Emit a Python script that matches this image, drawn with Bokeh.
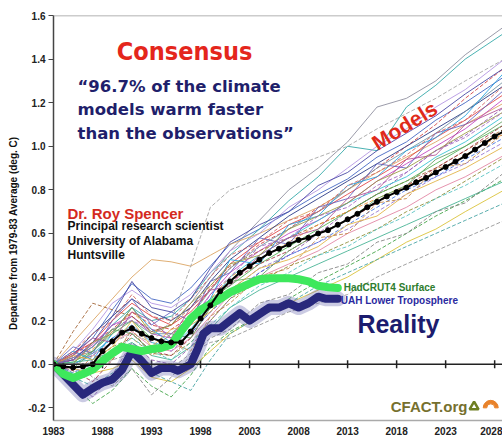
import math
from bokeh.plotting import figure
from bokeh.models import Range1d, Span, Label, FixedTicker, PrintfTickFormatter
from bokeh.core.properties import value
from bokeh.embed import file_html
from bokeh.resources import INLINE

# ---------------- data ----------------
x_ticks = [1983, 1988, 1993, 1998, 2003, 2008, 2013, 2018, 2023, 2028]
y_ticks = [-0.2, 0.0, 0.2, 0.4, 0.6, 0.8, 1.0, 1.2, 1.4, 1.6]

mean_years = list(range(1983, 2030))
mean_vals = [0.00, -0.01, -0.015, -0.01, 0.00, 0.06, 0.105, 0.145, 0.165, 0.14,
             0.12, 0.105, 0.10, 0.10, 0.15, 0.21, 0.27, 0.335, 0.38, 0.42,
             0.45, 0.48, 0.51, 0.53, 0.55, 0.57, 0.58, 0.60, 0.615, 0.64,
             0.665, 0.69, 0.72, 0.745, 0.77, 0.79, 0.81, 0.835, 0.855, 0.88,
             0.905, 0.93, 0.955, 0.985, 1.015, 1.045, 1.07]

had_years = list(range(1983, 2013))
had_vals = [0.00, -0.045, -0.063, -0.045, -0.025, 0.015, 0.05, 0.08, 0.07, 0.06,
            0.07, 0.075, 0.09, 0.15, 0.21, 0.25, 0.275, 0.30, 0.33, 0.35,
            0.37, 0.39, 0.395, 0.395, 0.395, 0.39, 0.38, 0.36, 0.353, 0.35]

uah_years = [1983, 1984.5, 1986, 1987, 1988, 1989, 1990, 1991, 1992, 1993, 1994,
             1995, 1995.7, 1997, 1997.7, 1998.3, 1999, 2000, 2001, 2002, 2003,
             2004, 2005, 2006, 2007, 2008, 2009, 2010, 2010.8, 2012]
uah_vals = [0.00, -0.07, -0.14, -0.11, -0.085, -0.07, -0.025, 0.06, 0.015, -0.04,
            -0.017, -0.017, -0.03, 0.00, 0.07, 0.14, 0.165, 0.165, 0.20, 0.235,
            0.20, 0.23, 0.26, 0.26, 0.28, 0.26, 0.28, 0.31, 0.30, 0.30]

model_years = [1983, 1985, 1987, 1989, 1991, 1993, 1995, 1997, 1999, 2001,
               2004, 2007, 2010, 2013, 2016, 2019, 2022, 2025, 2029]
m01 = [0, 0.05, 0.12, 0.25, 0.37, 0.30, 0.28, 0.35, 0.45, 0.55, 0.62, 0.70, 0.78, 0.85, 0.95, 1.02, 1.12, 1.20, 1.32]
m02 = [0, 0.02, 0.08, 0.18, 0.26, 0.20, 0.22, 0.30, 0.42, 0.50, 0.62, 0.75, 0.86, 1.00, 0.98, 1.18, 1.28, 1.40, 1.52]
m03 = [0, 0.03, 0.06, 0.15, 0.22, 0.15, 0.18, 0.28, 0.40, 0.52, 0.66, 0.80, 0.90, 1.02, 1.18, 1.22, 1.30, 1.42, 1.55]
m04 = [0, -0.08, -0.15, -0.05, 0.10, 0.02, 0.00, 0.08, 0.20, 0.30, 0.42, 0.50, 0.60, 0.70, 0.78, 0.88, 0.98, 1.05, 1.18]
m05 = [0, 0.04, 0.10, 0.16, 0.24, 0.18, 0.16, 0.22, 0.35, 0.44, 0.55, 0.62, 0.72, 0.80, 0.90, 1.00, 1.10, 1.22, 1.36]
m06 = [0, 0.10, 0.20, 0.30, 0.40, 0.48, 0.47, 0.45, 0.50, 0.55, 0.60, 0.66, 0.72, 0.80, 0.88, 0.95, 1.02, 1.10, 1.20]
m07 = [0, -0.02, 0.01, 0.08, 0.12, 0.05, 0.04, 0.10, 0.20, 0.30, 0.38, 0.45, 0.50, 0.56, 0.62, 0.70, 0.76, 0.84, 0.95]
m08 = [0, -0.10, -0.18, -0.12, -0.02, -0.10, -0.15, -0.05, 0.08, 0.15, 0.22, 0.30, 0.38, 0.45, 0.52, 0.60, 0.68, 0.75, 0.85]
m09 = [0, -0.05, -0.03, 0.02, 0.05, 0.00, -0.02, 0.05, 0.10, 0.12, 0.18, 0.24, 0.28, 0.32, 0.40, 0.46, 0.52, 0.58, 0.66]
m10 = [0, 0.03, 0.09, 0.18, 0.22, 0.14, 0.12, 0.20, 0.32, 0.42, 0.52, 0.60, 0.66, 0.74, 0.84, 0.92, 1.00, 1.08, 1.22]
m11 = [0, 0.00, 0.05, 0.12, 0.18, 0.10, 0.08, 0.16, 0.28, 0.40, 0.50, 0.58, 0.66, 0.74, 0.80, 0.86, 0.95, 1.02, 1.14]
m12 = [0, 0.15, 0.28, 0.25, 0.22, 0.15, 0.18, 0.26, 0.36, 0.45, 0.52, 0.58, 0.64, 0.70, 0.78, 0.84, 0.90, 0.98, 1.08]
m13 = [0, 0.02, 0.04, 0.10, 0.15, 0.08, 0.06, 0.12, 0.22, 0.32, 0.40, 0.46, 0.52, 0.60, 0.66, 0.72, 0.80, 0.86, 0.96]
m14 = [0, 0.04, 0.14, 0.22, 0.30, 0.24, 0.20, 0.26, 0.38, 0.48, 0.58, 0.68, 0.76, 0.84, 0.92, 1.00, 1.08, 1.16, 1.28]
m15 = [0, -0.02, -0.04, -0.02, 0.02, -0.06, -0.08, -0.02, 0.06, 0.14, 0.22, 0.28, 0.34, 0.40, 0.48, 0.56, 0.62, 0.70, 0.80]
m16 = [0, 0.02, 0.05, 0.10, 0.14, 0.10, 0.20, 0.45, 0.72, 0.80, 0.85, 0.90, 0.95, 1.00, 1.08, 1.15, 1.22, 1.30, 1.40]
m17 = [0, 0.01, 0.06, 0.14, 0.20, 0.12, 0.10, 0.18, 0.30, 0.36, 0.46, 0.54, 0.62, 0.70, 0.78, 0.84, 0.92, 1.00, 1.10]
m18 = [0, -0.04, 0.02, 0.10, 0.18, 0.10, 0.06, 0.14, 0.24, 0.34, 0.44, 0.50, 0.56, 0.62, 0.70, 0.78, 0.86, 0.92, 1.02]
m19 = [0, -0.06, -0.10, -0.04, 0.04, -0.04, -0.08, -0.12, 0.02, 0.14, 0.22, 0.28, 0.36, 0.42, 0.48, 0.54, 0.60, 0.66, 0.74]
m20 = [0, 0.05, 0.10, 0.20, 0.28, 0.22, 0.18, 0.24, 0.34, 0.46, 0.56, 0.64, 0.70, 0.78, 0.86, 0.94, 1.04, 1.12, 1.24]
m21 = [0, 0.00, 0.04, 0.12, 0.16, 0.12, 0.10, 0.14, 0.24, 0.32, 0.42, 0.50, 0.56, 0.64, 0.72, 0.80, 0.86, 0.94, 1.04]
m22 = [0, 0.02, 0.07, 0.15, 0.24, 0.16, 0.14, 0.20, 0.30, 0.40, 0.48, 0.56, 0.64, 0.70, 0.76, 0.82, 0.88, 0.96, 1.06]
m23 = [0, 0.06, 0.16, 0.28, 0.34, 0.28, 0.26, 0.32, 0.42, 0.52, 0.60, 0.72, 0.80, 0.90, 1.00, 1.08, 1.18, 1.26, 1.40]
m24 = [0, 0.01, 0.02, 0.06, 0.10, 0.04, 0.02, 0.08, 0.16, 0.26, 0.34, 0.40, 0.46, 0.52, 0.58, 0.64, 0.70, 0.76, 0.84]
m25 = [0, 0.03, 0.08, 0.16, 0.20, 0.14, 0.14, 0.22, 0.34, 0.44, 0.54, 0.62, 0.70, 0.80, 0.90, 0.98, 1.06, 1.16, 1.30]
m26 = [0, -0.03, -0.08, 0.02, 0.14, 0.06, 0.04, 0.12, 0.26, 0.38, 0.46, 0.52, 0.60, 0.66, 0.74, 0.82, 0.90, 0.98, 1.10]
m27 = [0, 0.08, 0.05, 0.20, 0.30, 0.18, 0.24, 0.20, 0.38, 0.42, 0.58, 0.55, 0.72, 0.76, 0.92, 0.90, 1.06, 1.10, 1.26]
m28 = [0, -0.06, 0.04, 0.02, 0.16, 0.04, 0.10, 0.06, 0.22, 0.28, 0.40, 0.44, 0.58, 0.60, 0.74, 0.76, 0.90, 0.92, 1.06]
m29 = [0, 0.06, 0.02, 0.14, 0.26, 0.16, 0.10, 0.22, 0.30, 0.48, 0.46, 0.64, 0.68, 0.82, 0.86, 0.98, 1.04, 1.14, 1.34]
m30 = [0, 0.02, -0.06, -0.10, -0.02, -0.14, -0.06, 0.04, 0.12, 0.16, 0.28, 0.32, 0.42, 0.46, 0.56, 0.60, 0.70, 0.74, 0.88]
m31 = [0, 0.04, 0.12, 0.10, 0.24, 0.20, 0.12, 0.26, 0.34, 0.36, 0.50, 0.58, 0.62, 0.76, 0.80, 0.94, 0.96, 1.10, 1.18]
m32 = [0, -0.02, 0.06, 0.16, 0.14, 0.06, 0.14, 0.12, 0.26, 0.38, 0.40, 0.52, 0.60, 0.66, 0.76, 0.82, 0.94, 1.00, 1.12]
m33 = [0, 0.06, 0.14, 0.20, 0.32, 0.22, 0.20, 0.30, 0.40, 0.50, 0.56, 0.66, 0.70, 0.82, 0.88, 0.96, 1.06, 1.12, 1.28]
m34 = [0, 0.04, 0.02, 0.08, 0.20, 0.08, 0.16, 0.18, 0.24, 0.34, 0.44, 0.48, 0.54, 0.64, 0.68, 0.78, 0.84, 0.90, 1.00]
m35 = [0, 0.02, 0.10, 0.22, 0.38, 0.26, 0.24, 0.30, 0.44, 0.56, 0.64, 0.70, 0.82, 0.88, 0.98, 1.06, 1.14, 1.24, 1.36]
m36 = [0, -0.04, 0.00, 0.06, 0.12, 0.06, 0.02, 0.10, 0.18, 0.26, 0.36, 0.42, 0.50, 0.54, 0.62, 0.68, 0.76, 0.82, 0.92]
m37 = [0, 0.00, 0.10, 0.14, 0.26, 0.14, 0.18, 0.28, 0.36, 0.46, 0.50, 0.62, 0.68, 0.74, 0.84, 0.90, 0.98, 1.06, 1.16]
m38 = [0, 0.02, 0.08, 0.18, 0.20, 0.16, 0.14, 0.18, 0.32, 0.40, 0.54, 0.58, 0.68, 0.72, 0.82, 0.88, 0.98, 1.04, 1.16]

models = [m01, m02, m03, m04, m05, m06, m07, m08, m09, m10, m11, m12, m13,
          m14, m15, m16, m17, m18, m19, m20, m21, m22, m23, m24, m25, m26,
          m27, m28, m29, m30, m31, m32, m33, m34, m35, m36, m37, m38]
model_colors = ["#3b5fc0", "#2aa5a5", "#8a8a9a", "#8b4fa8", "#d03a3a", "#d9a05a",
                "#8a8a30", "#3aa040", "#909090", "#c040c0", "#30c0d0", "#a06030",
                "#e080a0", "#203080", "#d8c030", "#a0a0a0", "#50b050", "#9070d0",
                "#40a0a0", "#e04040", "#4070e0", "#f09030", "#b090e0", "#40b090",
                "#7090a0", "#a03040", "#6060c0", "#c08040", "#20a0e0", "#808080",
                "#b05090", "#60a060", "#d06060", "#e0b040", "#4040a0", "#50c0c0",
                "#9a9a40", "#a060c0"]
model_dashed = [False, False, False, True, True, False, True, True, True, False,
                False, True, False, False, False, True, False, True, True, False,
                True, True, False, False, False, True, False, True, False, True,
                False, False, True, False, False, True, False, True]

# ---------------- figure ----------------
p = figure(width=502, height=439, output_backend="svg", toolbar_location=None,
           x_range=Range1d(1983, 2028.8), y_range=Range1d(-0.258, 1.6),
           min_border_left=53, min_border_right=0, min_border_top=15,
           min_border_bottom=19)
p.outline_line_color = None
p.grid.visible = False
p.background_fill_color = "white"
p.border_fill_color = "white"

# y axis
p.yaxis.ticker = FixedTicker(ticks=y_ticks)
p.yaxis.formatter = PrintfTickFormatter(format="%.1f")
p.yaxis.axis_line_color = "#444444"
p.yaxis.axis_line_width = 1.5
p.yaxis.major_tick_line_color = "#444444"
p.yaxis.major_tick_out = 5
p.yaxis.major_tick_in = 0
p.yaxis.minor_tick_line_color = None
p.yaxis.minor_tick_out = 0
p.yaxis.minor_tick_in = 0
p.yaxis.major_label_text_font = "Liberation Sans"
p.yaxis.major_label_text_font_style = "bold"
p.yaxis.major_label_text_font_size = "10px"
p.yaxis.major_label_text_color = "#222222"
p.yaxis.major_label_standoff = 3
p.yaxis.axis_label = "Departure from 1979-83 Average (deg. C)" + "\u00a0" * 11
p.yaxis.axis_label_text_font = "Liberation Sans"
p.yaxis.axis_label_text_font_style = "bold"
p.yaxis.axis_label_text_font_size = "10px"
p.yaxis.axis_label_text_color = "#111111"
p.yaxis.axis_label_standoff = 6

# x axis
p.xaxis.ticker = FixedTicker(ticks=x_ticks)
p.xaxis.axis_line_color = "#aaaaaa"
p.xaxis.axis_line_width = 1.5
p.xaxis.major_tick_line_color = None
p.xaxis.major_tick_out = 0
p.xaxis.major_tick_in = 0
p.xaxis.minor_tick_line_color = None
p.xaxis.minor_tick_out = 0
p.xaxis.minor_tick_in = 0
p.xaxis.major_label_text_font = "Liberation Sans"
p.xaxis.major_label_text_font_style = "bold"
p.xaxis.major_label_text_font_size = "10px"
p.xaxis.major_label_text_color = "#222222"
p.xaxis.major_label_standoff = 6

# top frame line and zero line
p.add_layout(Span(location=1.6, dimension="width", line_color="#999999", line_width=1.5))
p.add_layout(Span(location=0, dimension="width", line_color="#222222", line_width=1.5))
p.scatter(x=x_ticks[1:], y=[0] * (len(x_ticks) - 1), marker="dash", angle=math.pi / 2,
          size=8, line_color="#222222", line_width=1.5)

# model spaghetti
for vals, col, dashed in zip(models, model_colors, model_dashed):
    p.line(model_years, vals, line_color=col, line_width=1, line_alpha=0.85,
           line_dash="4 2" if dashed else "solid")

# observations
p.line(uah_years, uah_vals, line_color="#6a6ab0", line_width=15, line_alpha=0.35,
       line_join="round", line_cap="round")
p.line(uah_years, uah_vals, line_color="#28287c", line_width=8, line_join="round",
       line_cap="round")
p.line(had_years, had_vals, line_color="#3ee85c", line_width=8, line_join="round",
       line_cap="round")

# model mean
p.line(mean_years, mean_vals, line_color="black", line_width=2)
p.scatter(mean_years, mean_vals, size=5, color="black")

# ---------------- texts ----------------
def lab(x, y, text, size, color, font="Liberation Sans", align="left", angle=0.0):
    p.add_layout(Label(x=x, y=y, text=text, text_font=font, text_font_style="bold",
                       text_font_size=size, text_color=color, text_align=align,
                       text_baseline="middle", angle=angle))

lab(1996.37, 1.436, "Consensus", "25px", "#e4261c",
    font="'DejaVu Sans Condensed', 'DejaVu Sans', sans-serif", align="center")
lab(1985.45, 1.275, "\u201c96.7% of the climate", "16.5px", "#1f1f6b", font="DejaVu Sans")
lab(1985.45, 1.170, "models warm faster", "16.5px", "#1f1f6b", font="DejaVu Sans")
lab(1985.45, 1.060, "than the observations\u201d", "16.5px", "#1f1f6b", font="DejaVu Sans")
lab(1984.43, 0.693, "Dr. Roy Spencer", "15px", "#d42a1e")
lab(1984.43, 0.633, "Principal research scientist", "12px", "#111111")
lab(1984.43, 0.564, "University of Alabama", "12px", "#111111")
lab(1984.43, 0.500, "Huntsville", "12px", "#111111")
lab(2018.8, 1.096, "Models", "21px", "#e02a1a", align="center", angle=math.radians(32))
lab(2012.6, 0.353, "HadCRUT4 Surface", "10px", "#2e7d2e")
lab(2012.3, 0.294, "UAH Lower Troposphere", "10px", "#2a2aa0")
lab(2014.0, 0.183, "Reality", "25px", "#1c1c6e")
lab(2017.4, -0.193, "CFACT.org", "15px", "#76702e")

# logo
p.annular_wedge(x=2027.6, y=-0.20, inner_radius=4, outer_radius=7.5,
                inner_radius_units="screen", outer_radius_units="screen",
                start_angle=0, end_angle=math.pi, color="#e8822a")
p.scatter(x=[2025.9], y=[-0.195], marker="triangle", size=9, fill_color=None,
          line_color="#6f7f22", line_width=2.5)

open("out.html", "w").write(file_html(p, INLINE))
